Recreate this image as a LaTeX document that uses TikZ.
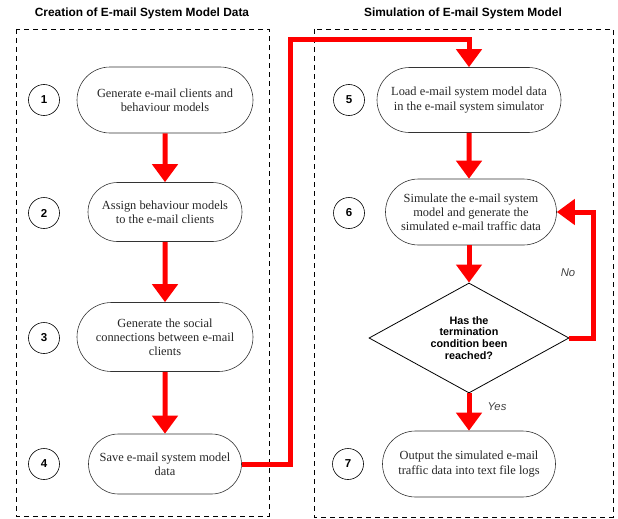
\documentclass[tikz,border=0pt]{standalone}
\usepackage{fontspec}
\setmainfont{Liberation Serif}
\setsansfont{Liberation Sans}
\usetikzlibrary{arrows.meta,shapes.misc,shapes.geometric}
\begin{document}
\begin{tikzpicture}[x=1pt,y=-1pt,
  step box/.style={draw=black!80,line width=0.6pt,rounded rectangle,align=center,
    font=\fontsize{12.4}{14.2}\selectfont,text=black!85,inner sep=0pt},
  num/.style={draw=black,line width=0.6pt,circle,minimum size=31pt,inner sep=0pt,
    font=\sffamily\bfseries\fontsize{11.5}{13}\selectfont},
  stage/.style={draw=black,line width=0.9pt,dash pattern=on 5pt off 4pt},
  title/.style={font=\sffamily\bfseries\fontsize{11.9}{14}\selectfont},
  flow/.style={draw=red,line width=5pt,-{Triangle[width=25pt,length=18pt]}},
  lbl/.style={font=\sffamily\itshape\fontsize{11.3}{13}\selectfont,text=black!75}]
\useasboundingbox (0,0) rectangle (618,519);

% stage frames and headings
\draw[stage] (16,29) rectangle (269,516);
\draw[stage] (314,29) rectangle (613,517);
\node[title] (t1) at (142,13) {Creation of E-mail System Model Data};
\node[title] (t2) at (463,13) {Simulation of E-mail System Model};

% left column: building the model data
\node[step box,minimum width=176pt,minimum height=66pt] (s1) at (165,100)
  {Generate e-mail clients and\\behaviour models};
\node[step box,minimum width=154pt,minimum height=59pt] (s2) at (165,212)
  {Assign behaviour models\\to the e-mail clients};
\node[step box,minimum width=176pt,minimum height=69pt] (s3) at (165,337)
  {Generate the social\\connections between e-mail\\clients};
\node[step box,minimum width=153pt,minimum height=60pt] (s4) at (165,464)
  {Save e-mail system model\\data};

\node[num] (n1) at (44,100) {1};
\node[num] (n2) at (44,213) {2};
\node[num] (n3) at (44,338) {3};
\node[num] (n4) at (44,464) {4};

% right column: running the simulation
\node[step box,minimum width=184pt,minimum height=65pt] (s5) at (469,100)
  {Load e-mail system model data\\in the e-mail system simulator};
\node[step box,minimum width=171pt,minimum height=66pt] (s6) at (471,212)
  {Simulate the e-mail system\\model and generate the\\simulated e-mail traffic data};
\node[draw=black,line width=0.8pt,diamond,aspect=1.82,minimum width=200pt,minimum height=110pt,
  inner sep=0pt,align=center,font=\sffamily\bfseries\fontsize{10.8}{11.8}\selectfont] (d)
  at (469,338) {Has the\\termination\\condition been\\reached?};
\node[step box,minimum width=173pt,minimum height=66pt] (s7) at (469,464)
  {Output the simulated e-mail\\traffic data into text file logs};

\node[num] (n5) at (349,100) {5};
\node[num] (n6) at (349,213) {6};
\node[num] (n7) at (348,464) {7};

% connectors
\draw[flow] (s1) -- (s2);
\draw[flow] (s2) -- (s3);
\draw[flow] (s3) -- (s4);
\coordinate (c1) at (290,464);
\coordinate (c2) at (290,40);
\coordinate (c3) at (469,40);
\draw[flow,line join=miter] (s4.east) -- (c1) -- (c2) -- (c3) -- (s5.north);
\draw[flow] (s5) -- (s6.north -| s5.south);
\draw[flow] (s6.south -| d.north) -- (d.north);
\coordinate (c4) at (593,338);
\coordinate (c5) at (593,212);
\draw[flow,line join=miter] (d.east) -- (c4) -- (c5) -- (s6.east);
\draw[flow] (d.south) -- (s7.north);

\node[lbl] (no) at (568,273) {No};
\node[lbl] (yes) at (497,407) {Yes};
\end{tikzpicture}
\end{document}
